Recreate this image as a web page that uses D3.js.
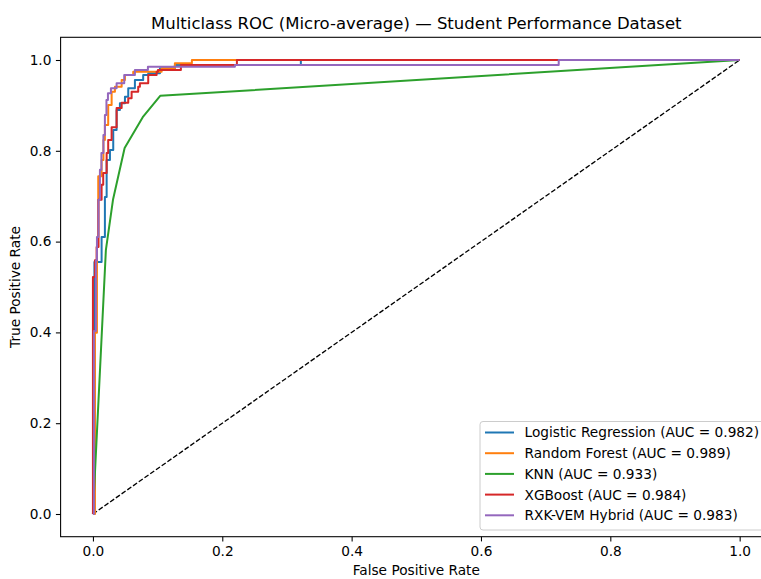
<!DOCTYPE html>
<html>
<head>
<meta charset="utf-8">
<script src="https://cdn.jsdelivr.net/npm/d3@7"></script>
<style>
  html, body { margin: 0; padding: 0; background: #fff; overflow: hidden; }
  svg { display: block; }
</style>
</head>
<body>
<div id="chart"></div>
<script>
// ROC corner points [fpr, tpr] (step curves)
const lrRoc = [[0, 0], [0.0023, 0.555], [0.0134, 0.61], [0.0185, 0.698], [0.0212, 0.78], [0.0263, 0.802], [0.0314, 0.846], [0.0366, 0.89], [0.0417, 0.905], [0.0495, 0.919], [0.0546, 0.938], [0.0649, 0.956], [0.0777, 0.967], [0.0855, 0.971], [0.1036, 0.982], [0.1267, 0.989], [0.3215, 1], [1, 1]]
const rfRoc = [[0, 0], [0.0031, 0.399], [0.0062, 0.588], [0.0082, 0.744], [0.0134, 0.78], [0.0162, 0.824], [0.0185, 0.857], [0.0236, 0.901], [0.0289, 0.93], [0.034, 0.941], [0.0444, 0.956], [0.0495, 0.967], [0.0623, 0.974], [0.1062, 0.982], [0.1267, 0.993], [0.153, 1], [1, 1]]
const knnRoc = [[0, 0], [0.02, 0.581], [0.031, 0.692], [0.049, 0.806], [0.077, 0.874], [0.104, 0.921], [1, 1]]
const xgbRoc = [[0, 0], [0, 0.522], [0.0031, 0.559], [0.0057, 0.588], [0.0085, 0.692], [0.0134, 0.725], [0.0159, 0.751], [0.0212, 0.795], [0.0236, 0.824], [0.0289, 0.852], [0.0366, 0.894], [0.0444, 0.906], [0.0546, 0.916], [0.0598, 0.93], [0.07, 0.941], [0.0726, 0.949], [0.0855, 0.967], [0.0985, 0.974], [0.1005, 0.978], [0.136, 0.989], [0.2226, 1], [1, 1]]
const hybridRoc = [[0, 0], [0.0015, 0.403], [0.0046, 0.559], [0.0062, 0.61], [0.0085, 0.692], [0.0108, 0.758], [0.0131, 0.795], [0.0162, 0.835], [0.0185, 0.879], [0.0209, 0.912], [0.0232, 0.927], [0.0278, 0.938], [0.0366, 0.949], [0.0484, 0.967], [0.0649, 0.978], [0.085, 0.985], [0.2195, 0.989], [0.7202, 1], [1, 1]]

const models = ['Logistic Regression', 'Random Forest', 'KNN', 'XGBoost', 'RXK-VEM Hybrid']
const aucs = [0.982, 0.989, 0.933, 0.984, 0.983]
const rocs = [lrRoc, rfRoc, knnRoc, xgbRoc, hybridRoc]
const stepped = [true, true, false, true, true]
const ticks = [0, 0.2, 0.4, 0.6, 0.8, 1.0]

const colors = ['#1f77b4', '#ff7f0e', '#2ca02c', '#d62728', '#9467bd']

const width = 761
const height = 579
const margin = { top: 37.3, right: -11, bottom: 42.3, left: 60.6 }
const fs = 13.7

const x = d3.scaleLinear().domain([-0.05, 1.05]).range([margin.left, width - margin.right])
const y = d3.scaleLinear().domain([-0.05, 1.05]).range([height - margin.bottom, margin.top])

const svg = d3
  .select('#chart')
  .append('svg')
  .attr('width', width)
  .attr('height', height)
  .attr('font-family', 'DejaVu Sans, sans-serif')

svg
  .append('text')
  .attr('x', (x.range()[0] + x.range()[1]) / 2)
  .attr('y', margin.top - 8.5)
  .attr('text-anchor', 'middle')
  .attr('font-size', 16.5)
  .text('Multiclass ROC (Micro-average) \u2014 Student Performance Dataset')

// diagonal chance line
svg
  .append('line')
  .attr('x1', x(0))
  .attr('y1', y(0))
  .attr('x2', x(1))
  .attr('y2', y(1))
  .attr('stroke', '#000')
  .attr('stroke-width', 1.33)
  .attr('stroke-dasharray', '4.9,2.1')

const g = svg.append('g').attr('fill', 'none').attr('stroke-width', 2).attr('stroke-linejoin', 'round')

rocs.forEach((d, i) => {
  g.append('path')
    .datum(d)
    .attr('stroke', colors[i])
    .attr(
      'd',
      d3
        .line()
        .x(p => x(p[0]))
        .y(p => y(p[1]))
        .curve(stepped[i] ? d3.curveStepAfter : d3.curveLinear)
    )
})

// axes
const xAxis = svg
  .append('g')
  .attr('transform', `translate(0,${y.range()[0]})`)
  .call(d3.axisBottom(x).tickValues(ticks).tickFormat(d3.format('.1f')).tickSize(4.7).tickPadding(4.5))
const yAxis = svg
  .append('g')
  .attr('transform', `translate(${x.range()[0]},0)`)
  .call(d3.axisLeft(y).tickValues(ticks).tickFormat(d3.format('.1f')).tickSize(4.7).tickPadding(4.5))

for (const ax of [xAxis, yAxis]) {
  ax.select('.domain').remove()
  ax.selectAll('line').attr('stroke', '#000').attr('stroke-width', 1.07)
  ax.selectAll('text').attr('font-size', fs).attr('fill', '#000').attr('font-family', 'DejaVu Sans, sans-serif')
}

// spines
svg
  .append('rect')
  .attr('x', x.range()[0])
  .attr('y', y.range()[1])
  .attr('width', x.range()[1] - x.range()[0])
  .attr('height', y.range()[0] - y.range()[1])
  .attr('fill', 'none')
  .attr('stroke', '#000')
  .attr('stroke-width', 1.07)

svg
  .append('text')
  .attr('x', (x.range()[0] + x.range()[1]) / 2)
  .attr('y', height - 4)
  .attr('text-anchor', 'middle')
  .attr('font-size', fs)
  .text('False Positive Rate')

svg
  .append('text')
  .attr('transform', `translate(20,${(y.range()[0] + y.range()[1]) / 2}) rotate(-90)`)
  .attr('text-anchor', 'middle')
  .attr('font-size', fs)
  .text('True Positive Rate')

// legend, lower right
const lg = svg.append('g')
lg.append('rect')
  .attr('x', 480)
  .attr('y', 421.5)
  .attr('width', 285)
  .attr('height', 108.5)
  .attr('rx', 3)
  .attr('fill', '#fff')
  .attr('fill-opacity', 0.8)
  .attr('stroke', '#cccccc')
  .attr('stroke-width', 1)

const item = lg
  .selectAll('g.item')
  .data(models)
  .join('g')
  .attr('class', 'item')
  .attr('transform', (d, i) => `translate(485,${432.5 + i * 20.7})`)

item
  .append('line')
  .attr('x1', 0)
  .attr('x2', 29)
  .attr('stroke', (d, i) => colors[i])
  .attr('stroke-width', 2)

item
  .append('text')
  .attr('x', 39.5)
  .attr('dy', '0.36em')
  .attr('font-size', fs)
  .attr('fill', '#000')
  .text((d, i) => `${d} (AUC = ${aucs[i].toFixed(3)})`)
</script>
</body>
</html>
